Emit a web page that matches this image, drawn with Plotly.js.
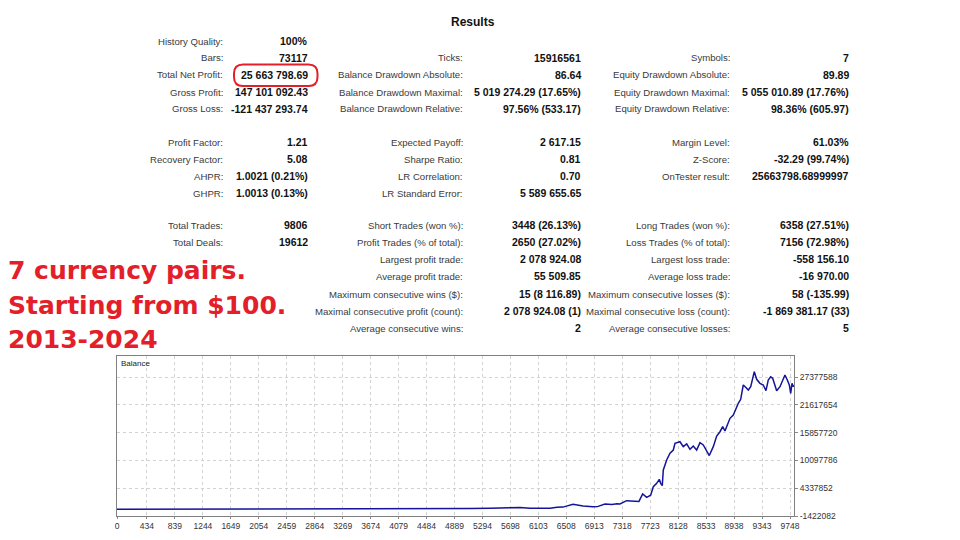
<!DOCTYPE html>
<html>
<head>
<meta charset="utf-8">
<script src="https://cdn.plot.ly/plotly-3.0.1.min.js"></script>
<style>html,body{margin:0;padding:0;background:#fff;}#chart{width:960px;height:540px;}</style>
</head>
<body>
<div id="chart"></div>
<script>
// ---- Balance curve (trade number vs balance) ----
const tradeNo = [0, 600, 1250, 1900, 2500, 3100, 3700, 4300, 4700, 5113, 5403, 5692, 5837, 5982, 6272, 6373, 6460, 6605, 6750, 6894, 6960, 7068, 7170, 7242, 7285, 7382, 7527, 7560, 7614, 7672, 7730, 7768, 7817, 7855, 7875, 7898, 7913, 7962, 8010, 8058, 8082, 8154, 8202, 8252, 8299, 8347, 8396, 8444, 8492, 8550, 8579, 8637, 8686, 8734, 8773, 8806, 8840, 8879, 8927, 8966, 8999, 9034, 9071, 9106, 9144, 9179, 9216, 9231, 9265, 9313, 9361, 9400, 9433, 9468, 9497, 9531, 9555, 9603, 9651, 9675, 9709, 9738, 9758, 9777, 9796, 9806];
const balance = [100, 130, 210, 380, 640, 1100, 2300, 5200, 60000, 120000, 160000, 380000, 350000, 160000, 200000, 380000, 420000, 1000000, 650000, 480000, 520000, 1060000, 980000, 1100000, 1060000, 1750000, 1700000, 1600000, 3140000, 2450000, 2870000, 4650000, 5350000, 6180000, 5350000, 4860000, 8110000, 10180000, 11570000, 12250000, 13640000, 13970000, 12940000, 13500000, 12400000, 13080000, 12250000, 13760000, 13290000, 12000000, 11100000, 12940000, 15150000, 16040000, 17080000, 16190000, 17430000, 18820000, 19500000, 20890000, 21930000, 22760000, 25720000, 25240000, 24680000, 25370000, 27440000, 28480000, 26900000, 26070000, 25720000, 24540000, 26760000, 27440000, 27110000, 25370000, 24540000, 25370000, 27110000, 27790000, 26760000, 25720000, 24000000, 26070000, 25370000, 25663899];

const xTickVals = [0, 434, 839, 1244, 1649, 2054, 2459, 2864, 3269, 3674, 4079, 4484, 4889, 5294, 5698, 6103, 6508, 6913, 7318, 7723, 8128, 8533, 8938, 9343, 9748];
const yTickVals = [-1422082, 4337852, 10097786, 15857720, 21617654, 27377588];

// ---- Results table ----
const resultsTitle = "Results";
const col1Labels = ["History Quality:", "Bars:", "Total Net Profit:", "Gross Profit:", "Gross Loss:", "", "Profit Factor:", "Recovery Factor:", "AHPR:", "GHPR:", "", "Total Trades:", "Total Deals:"];
const col1Values = ["100%", "73117", "25 663 798.69", "147 101 092.43", "-121 437 293.74", "", "1.21", "5.08", "1.0021 (0.21%)", "1.0013 (0.13%)", "", "9806", "19612"];
const col2Labels = ["", "Ticks:", "Balance Drawdown Absolute:", "Balance Drawdown Maximal:", "Balance Drawdown Relative:", "", "Expected Payoff:", "Sharpe Ratio:", "LR Correlation:", "LR Standard Error:", "", "Short Trades (won %):", "Profit Trades (% of total):", "Largest profit trade:", "Average profit trade:", "Maximum consecutive wins ($):", "Maximal consecutive profit (count):", "Average consecutive wins:"];
const col2Values = ["", "15916561", "86.64", "5 019 274.29 (17.65%)", "97.56% (533.17)", "", "2 617.15", "0.81", "0.70", "5 589 655.65", "", "3448 (26.13%)", "2650 (27.02%)", "2 078 924.08", "55 509.85", "15 (8 116.89)", "2 078 924.08 (1)", "2"];
const col3Labels = ["", "Symbols:", "Equity Drawdown Absolute:", "Equity Drawdown Maximal:", "Equity Drawdown Relative:", "", "Margin Level:", "Z-Score:", "OnTester result:", "", "", "Long Trades (won %):", "Loss Trades (% of total):", "Largest loss trade:", "Average loss trade:", "Maximum consecutive losses ($):", "Maximal consecutive loss (count):", "Average consecutive losses:"];
const col3Values = ["", "7", "89.89", "5 055 010.89 (17.76%)", "98.36% (605.97)", "", "61.03%", "-32.29 (99.74%)", "25663798.68999997", "", "", "6358 (27.51%)", "7156 (72.98%)", "-558 156.10", "-16 970.00", "58 (-135.99)", "-1 869 381.17 (33)", "5"];
const redNotes = ["7 currency pairs.", "Starting from $100.", "2013-2024"];
const chartLabel = "Balance";

// ---- layout helpers (pixel -> paper) ----
const W = 960, H = 540;
const px = x => x / W;
const py = y => 1 - y / H;
const rowY = [41, 58, 75, 92, 109, 125, 142, 159, 176, 193, 209, 225, 242, 259, 276, 294, 311, 328];

const annotations = [];
const labelFont = {family: "Liberation Sans, Arial, sans-serif", size: 9.6, color: "#3a3a3a"};
const valueFont = {family: "Liberation Sans, Arial, sans-serif", size: 10.5, color: "#111"};
function addCol(labels, values, labelRight, valueRight) {
  labels.forEach((t, i) => {
    if (t) annotations.push({xref: "paper", yref: "paper", x: px(labelRight), y: py(rowY[i]), xanchor: "right", yanchor: "middle", text: t, showarrow: false, font: labelFont, borderpad: 0});
  });
  values.forEach((t, i) => {
    if (t) annotations.push({xref: "paper", yref: "paper", x: px(valueRight), y: py(rowY[i]), xanchor: "right", yanchor: "middle", text: "<b>" + t + "</b>", showarrow: false, font: valueFont, borderpad: 0});
  });
}
addCol(col1Labels, col1Values, 224, 309);
addCol(col2Labels, col2Values, 464, 582);
addCol(col3Labels, col3Values, 731, 850);

annotations.push({xref: "paper", yref: "paper", x: px(473), y: py(22), xanchor: "center", yanchor: "middle", text: "<b>" + resultsTitle + "</b>", showarrow: false, font: {family: "Liberation Sans, Arial, sans-serif", size: 12, color: "#111"}});

const redY = [270, 305, 339];
redNotes.forEach((t, i) => {
  annotations.push({xref: "paper", yref: "paper", x: px(6), y: py(redY[i]), xanchor: "left", yanchor: "middle", text: "<b>" + t + "</b>", showarrow: false, font: {family: "DejaVu Sans, sans-serif", size: 25, color: "#e3202a"}});
});

annotations.push({xref: "paper", yref: "paper", x: px(119), y: py(363), xanchor: "left", yanchor: "middle", text: chartLabel, showarrow: false, font: {family: "Liberation Sans, Arial, sans-serif", size: 8, color: "#222"}});

// rounded red highlight
const x0 = px(234), x1 = px(317.5), y0 = py(64.5), y1 = py(86);
const rx = px(9), ry = 9 / H;
const path = `M ${x0 + rx},${y0} L ${x1 - rx},${y0} Q ${x1},${y0} ${x1},${y0 - ry} L ${x1},${y1 + ry} Q ${x1},${y1} ${x1 - rx},${y1} L ${x0 + rx},${y1} Q ${x0},${y1} ${x0},${y1 + ry} L ${x0},${y0 - ry} Q ${x0},${y0} ${x0 + rx},${y0} Z`;

const trace = {
  x: tradeNo, y: balance, type: "scatter", mode: "lines",
  line: {color: "#14149a", width: 1.5}, hoverinfo: "skip", showlegend: false
};

const axisFont = {family: "Liberation Sans, Arial, sans-serif", size: 8.5, color: "#333"};
const layout = {
  width: W, height: H,
  margin: {l: 0, r: 0, t: 0, b: 0, pad: 0},
  paper_bgcolor: "#fff", plot_bgcolor: "#fff",
  showlegend: false,
  xaxis: {
    domain: [px(117), px(794)], range: [0, 9806],
    tickmode: "array", tickvals: xTickVals, ticktext: xTickVals.map(String),
    ticks: "outside", ticklen: 2, tickcolor: "#888", tickfont: axisFont,
    showgrid: true, gridcolor: "#d2d2d2", griddash: "dot", gridwidth: 1,
    zeroline: false, showline: true, linecolor: "#808080", linewidth: 1, mirror: true,
    fixedrange: true
  },
  yaxis: {
    domain: [py(516), py(356)], range: [-1422082, 31728638], side: "right",
    tickmode: "array", tickvals: yTickVals, ticktext: yTickVals.map(String),
    ticks: "outside", ticklen: 3, tickcolor: "#888", tickfont: axisFont,
    showgrid: true, gridcolor: "#d2d2d2", griddash: "dot", gridwidth: 1,
    zeroline: false, showline: true, linecolor: "#808080", linewidth: 1, mirror: true,
    fixedrange: true
  },
  annotations: annotations,
  shapes: [{type: "path", xref: "paper", yref: "paper", path: path, line: {color: "#e3202a", width: 2}, fillcolor: "rgba(0,0,0,0)"}]
};

Plotly.newPlot("chart", [trace], layout, {displayModeBar: false, staticPlot: true});
</script>
</body>
</html>
